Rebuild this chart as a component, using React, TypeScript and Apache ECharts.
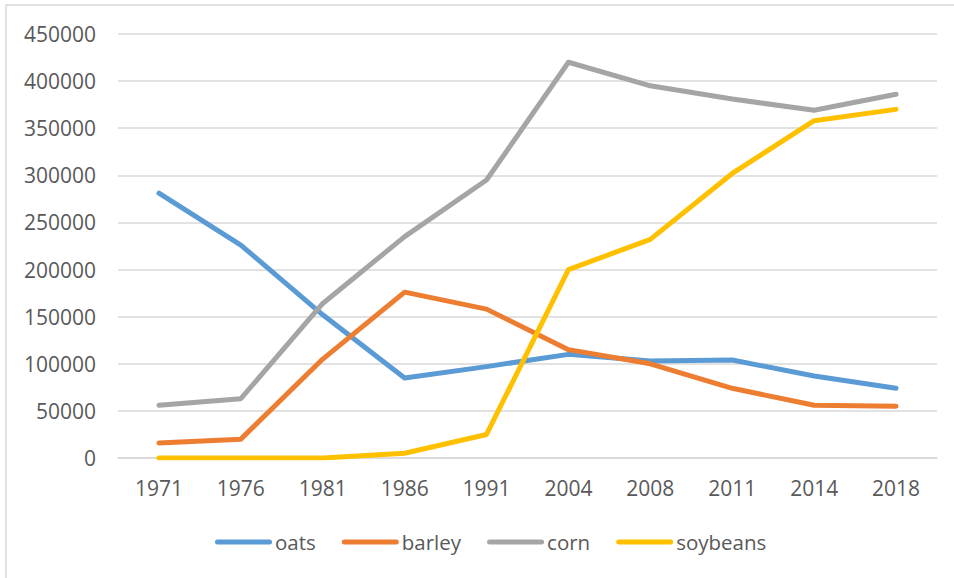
import React, { useEffect, useRef } from "react";
import * as echarts from "echarts";

const years = ["1971", "1976", "1981", "1986", "1991", "2004", "2008", "2011", "2014", "2018"];
const oats = [281000, 226000, 152000, 85000, 97000, 110000, 103000, 104000, 87000, 74000];
const barley = [16000, 20000, 105000, 176000, 158000, 115000, 100000, 74000, 56000, 55000];
const corn = [56000, 63000, 164000, 235000, 295000, 420000, 395000, 381000, 369000, 386000];
const soybeans = [0, 0, 0, 5000, 25000, 200000, 232000, 302000, 358000, 370000];

const seriesNames = ["oats", "barley", "corn", "soybeans"];
const seriesColors = ["#5B9BD5", "#ED7D31", "#A5A5A5", "#FFC000"];

const FONT = "'Open Sans', 'Liberation Sans', sans-serif";
const TEXT = "#595959";

export default function App() {
  const ref = useRef<HTMLDivElement>(null);
  useEffect(() => {
    if (!ref.current) return;
    const chart = echarts.init(ref.current, undefined, { renderer: "svg" });
    const data = [oats, barley, corn, soybeans];
    chart.setOption({
      animation: false,
      backgroundColor: "#ffffff",
      textStyle: { fontFamily: FONT },
      graphic: [
        {
          type: "rect",
          shape: { x: 6, y: 5, width: 1000, height: 1000 },
          style: { fill: "none", stroke: "#d9d9d9", lineWidth: 1.5 },
          silent: true,
        },
      ],
      grid: { left: 118, right: 17, top: 34, bottom: 120, containLabel: false },
      legend: {
        left: 210,
        top: 525,
        itemWidth: 57,
        itemHeight: 5,
        itemGap: 26,
        icon: "path://M2.5,0 H54.5 A2.5,2.5 0 0 1 54.5,5 H2.5 A2.5,2.5 0 0 1 2.5,0 Z",
        textStyle: { color: TEXT, fontSize: 20.5, fontFamily: FONT, lineHeight: 24, padding: [0, 0, 0, -2] },
        data: seriesNames,
      },
      xAxis: {
        type: "category",
        data: years,
        boundaryGap: true,
        axisLine: { show: true, lineStyle: { color: "#d9d9d9", width: 1.5 } },
        axisTick: { show: false },
        axisLabel: { color: TEXT, fontSize: 21, fontFamily: FONT, margin: 19 },
      },
      yAxis: {
        type: "value",
        min: 0,
        max: 450000,
        interval: 50000,
        axisLine: { show: false },
        axisTick: { show: false },
        axisLabel: {
          color: TEXT,
          fontSize: 21,
          fontFamily: FONT,
          margin: 22,
          formatter: (v: number) => String(v),
        },
        splitLine: { lineStyle: { color: "#d9d9d9", width: 1.5 } },
      },
      series: seriesNames.map((name, i) => ({
        name,
        type: "line",
        data: data[i],
        symbol: "none",
        color: seriesColors[i],
        lineStyle: { color: seriesColors[i], width: 5, cap: "round", join: "round" },
      })),
    });
    return () => chart.dispose();
  }, []);
  return (
    <div
      ref={ref}
      style={{ position: "fixed", left: 0, top: 0, width: 954, height: 578, background: "#fff" }}
    />
  );
}
